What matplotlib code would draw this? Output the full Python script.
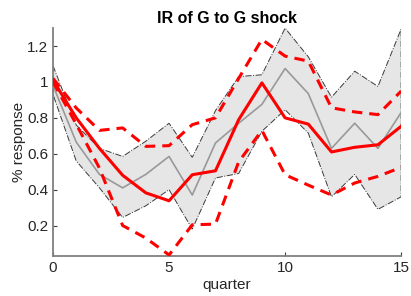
import numpy as np
import matplotlib
matplotlib.use("Agg")
import matplotlib.pyplot as plt

plt.rcParams['font.family'] = ['Liberation Sans', 'DejaVu Sans']

quarter = np.arange(16)

# gray band (bootstrap interval) and its median
band_hi = [1.09, 0.76, 0.63, 0.585, 0.67, 0.77, 0.58, 0.84, 1.03, 1.04, 1.30, 1.14, 0.915, 1.06, 0.975, 1.295]
band_lo = [0.93, 0.56, 0.41, 0.245, 0.31, 0.40, 0.18, 0.465, 0.49, 0.725, 0.845, 0.715, 0.36, 0.485, 0.29, 0.36]
band_mid = [0.98, 0.665, 0.485, 0.41, 0.485, 0.585, 0.37, 0.66, 0.77, 0.875, 1.075, 0.935, 0.63, 0.77, 0.63, 0.83]

# red point estimate and its interval
ir = [1.01, 0.80, 0.63, 0.48, 0.382, 0.338, 0.483, 0.505, 0.79, 0.995, 0.80, 0.765, 0.61, 0.636, 0.65, 0.753]
ir_hi = [1.02, 0.855, 0.73, 0.744, 0.641, 0.645, 0.762, 0.80, 1.02, 1.237, 1.144, 1.116, 0.856, 0.833, 0.818, 0.949]
ir_lo = [1.00, 0.765, 0.52, 0.20, 0.13, 0.036, 0.204, 0.208, 0.555, 0.73, 0.483, 0.425, 0.37, 0.437, 0.474, 0.524]

fig = plt.figure(figsize=(4.11, 2.96), dpi=100)
ax = fig.add_axes([0.129, 0.135, 0.847, 0.77])

poly_x = np.concatenate([quarter, quarter[::-1]])
poly_y = np.concatenate([band_hi, band_lo[::-1]])
ax.fill(poly_x, poly_y, facecolor="#e6e6e6", edgecolor="#3a3a3a", linestyle="-.", linewidth=0.7, zorder=1)
ax.plot(quarter, band_mid, color="#999999", linewidth=1.2, zorder=2)

ax.plot(quarter, ir, color="red", linewidth=2.2, zorder=3)
ax.plot(quarter, ir_hi, color="red", linewidth=2.2, linestyle=(0, (3.4, 2.3)), zorder=3)
ax.plot(quarter, ir_lo, color="red", linewidth=2.2, linestyle=(0, (3.4, 2.3)), zorder=3)

ax.set_xlim(0, 15)
ax.set_ylim(0.03, 1.30)
ax.set_xticks([0, 5, 10, 15])
ax.set_yticks([0.2, 0.4, 0.6, 0.8, 1.0, 1.2])
ax.set_yticklabels(["0.2", "0.4", "0.6", "0.8", "1", "1.2"])

for s in ["top", "right"]:
    ax.spines[s].set_visible(False)
for s in ["left", "bottom"]:
    ax.spines[s].set_color("#808080")
    ax.spines[s].set_linewidth(1.3)
ax.tick_params(direction="in", length=3, width=0.8, color="#404040", labelsize=11, labelcolor="#262626")

ax.set_title("IR of G to G shock", fontsize=11.5, fontweight="bold", pad=4)
ax.set_xlabel("quarter", fontsize=11, color="#262626", labelpad=2)
ax.set_ylabel("% response", fontsize=11, color="#262626", labelpad=1)

fig.savefig("out.png", dpi=100)
